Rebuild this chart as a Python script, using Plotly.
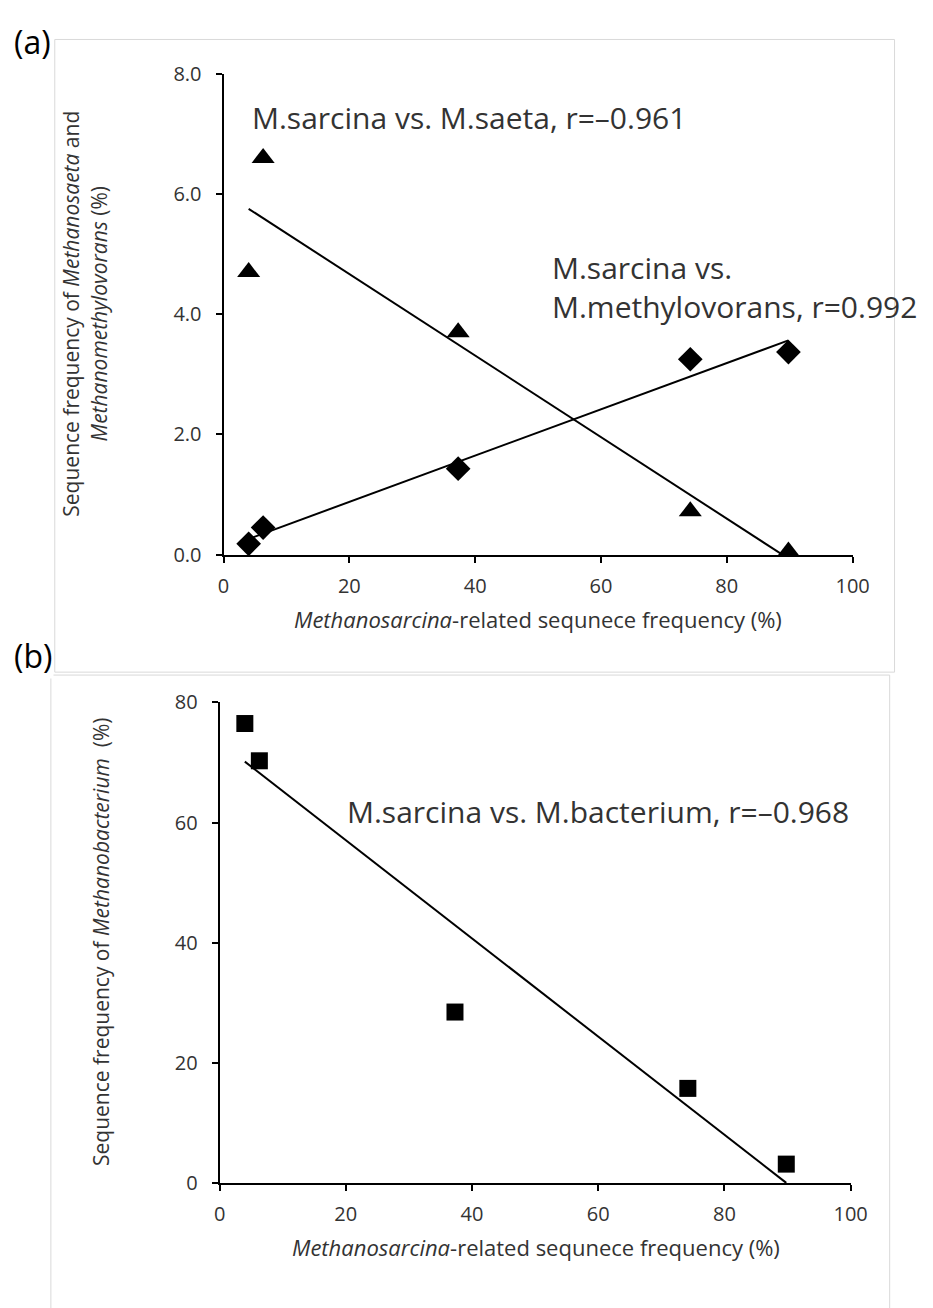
import numpy as np
import plotly.graph_objects as go

W, H = 933, 1308

# Methanosarcina-related sequence frequency (%) for the five samples
sarcina = [4.0, 6.3, 37.3, 74.2, 89.8]
# panel (a): Methanosaeta and Methanomethylovorans (%)
saeta = [4.7, 6.6, 3.7, 0.72, 0.05]
methylovorans = [0.18, 0.45, 1.43, 3.25, 3.37]
# panel (b): Methanobacterium (%)
bacterium = [76.5, 70.3, 28.5, 15.8, 3.2]

x_ticks = [0, 20, 40, 60, 80, 100]
ya_ticks = [0, 2, 4, 6, 8]
yb_ticks = [0, 20, 40, 60, 80]

FONT = "Open Sans"
TXT = "#333333"


def px(x):
    return x / W


def py(y):
    return 1 - y / H


def trend(x, y):
    slope, icpt = np.polyfit(x, y, 1)
    xs = np.array([min(x), max(x)])
    return xs, slope * xs + icpt


fig = go.Figure()

marker_line = dict(width=0)
fig.add_trace(go.Scatter(x=sarcina, y=saeta, mode="markers", xaxis="x", yaxis="y",
                         marker=dict(symbol="triangle-up", size=20, color="black", line=marker_line),
                         cliponaxis=False, showlegend=False))
fig.add_trace(go.Scatter(x=sarcina, y=methylovorans, mode="markers", xaxis="x", yaxis="y",
                         marker=dict(symbol="diamond", size=19, color="black", line=marker_line),
                         cliponaxis=False, showlegend=False))
tx, ty = trend(sarcina, saeta)
fig.add_trace(go.Scatter(x=tx, y=ty, mode="lines", xaxis="x", yaxis="y",
                         line=dict(color="black", width=2), cliponaxis=False, showlegend=False))
tx, ty = trend(sarcina, methylovorans)
fig.add_trace(go.Scatter(x=tx, y=ty, mode="lines", xaxis="x", yaxis="y",
                         line=dict(color="black", width=2), cliponaxis=False, showlegend=False))

fig.add_trace(go.Scatter(x=sarcina, y=bacterium, mode="markers", xaxis="x2", yaxis="y2",
                         marker=dict(symbol="square", size=17, color="black", line=marker_line),
                         cliponaxis=False, showlegend=False))
tx, ty = trend(sarcina, bacterium)
fig.add_trace(go.Scatter(x=tx, y=ty, mode="lines", xaxis="x2", yaxis="y2",
                         line=dict(color="black", width=2), cliponaxis=False, showlegend=False))

axis_common = dict(showgrid=False, zeroline=False, showline=True, linecolor="black",
                   linewidth=2, ticks="outside", ticklen=6, tickwidth=2, tickcolor="black",
                   tickfont=dict(family=FONT, size=20, color=TXT), fixedrange=True)

fig.update_layout(
    width=W, height=H, margin=dict(l=0, r=0, t=0, b=0),
    paper_bgcolor="white", plot_bgcolor="white",
    font=dict(family=FONT, color=TXT),
    xaxis=dict(domain=[px(223), px(868)], range=[0, 100], tickvals=x_ticks, anchor="y",
               ticklabelstandoff=6, **axis_common),
    yaxis=dict(domain=[py(552), py(61)], range=[0, 8], tickvals=ya_ticks, tickformat=".1f",
               anchor="x", ticklabelstandoff=10, **axis_common),
    xaxis2=dict(domain=[px(219), px(866)], range=[0, 100], tickvals=x_ticks, anchor="y2",
                ticklabelstandoff=6, **axis_common),
    yaxis2=dict(domain=[py(1194), py(703)], range=[0, 80], tickvals=yb_ticks, anchor="x2",
                ticklabelstandoff=10, **axis_common),
)

# light frames around each panel
fig.add_shape(type="rect", xref="paper", yref="paper", x0=px(50), x1=px(911), y0=py(672), y1=py(26),
              line=dict(color="#d9d9d9", width=1), layer="below")
fig.add_shape(type="rect", xref="paper", yref="paper", x0=px(46), x1=px(906), y0=py(1330), y1=py(675),
              line=dict(color="#d9d9d9", width=1), layer="below")

ann = []
ann.append(dict(text="(a)", x=px(6), y=py(28), xanchor="left", yanchor="middle",
                font=dict(size=32, color="black"), bgcolor="white"))
ann.append(dict(text="(b)", x=px(6), y=py(655), xanchor="left", yanchor="middle",
                font=dict(size=32, color="black"), bgcolor="white"))

ANN_SIZE = 30
ann.append(dict(text="M.sarcina vs. M.saeta, r=\u20130.961", x=px(250), y=py(106),
                xanchor="left", yanchor="middle", font=dict(size=ANN_SIZE, color=TXT)))
ann.append(dict(text="M.sarcina vs.<br>M.methylovorans, r=0.992", x=px(558), y=py(279),
                xanchor="left", yanchor="middle", align="left", font=dict(size=ANN_SIZE, color=TXT)))
ann.append(dict(text="M.sarcina vs. M.bacterium, r=\u20130.968", x=px(348), y=py(814),
                xanchor="left", yanchor="middle", font=dict(size=ANN_SIZE, color=TXT)))

xtitle = "<i>Methanosarcina</i>-related sequnece frequency (%)"
ann.append(dict(text=xtitle, x=px(545), y=py(618), xanchor="center", yanchor="middle",
                font=dict(size=22, color=TXT)))
ann.append(dict(text=xtitle, x=px(543), y=py(1259), xanchor="center", yanchor="middle",
                font=dict(size=22, color=TXT)))

ann.append(dict(text="Sequence frequency of <i>Methanosaeta</i> and<br><i>Methanomethylovorans</i> (%)",
                x=px(81), y=py(306), xanchor="center", yanchor="middle", textangle=-90,
                font=dict(size=21, color=TXT)))
ann.append(dict(text="Sequence frequency of <i>Methanobacterium</i>  (%)",
                x=px(98), y=py(948), xanchor="center", yanchor="middle", textangle=-90,
                font=dict(size=21, color=TXT)))

for a in ann:
    a.update(xref="paper", yref="paper", showarrow=False)
    a["font"].setdefault("family", FONT)
fig.update_layout(annotations=ann)

fig.write_html("out.html")
